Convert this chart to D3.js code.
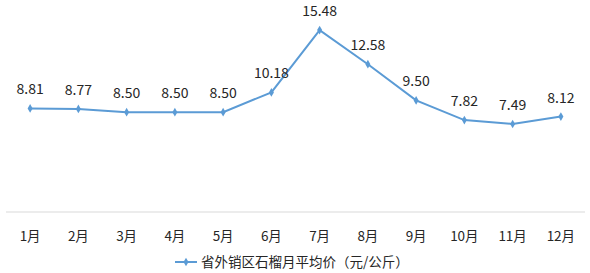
<!DOCTYPE html>
<html>
<head>
<meta charset="utf-8">
<script src="https://cdn.jsdelivr.net/npm/d3@7"></script>
<style>
  body { margin: 0; background: #fff; }
  text { font-family: "Noto Sans CJK SC", "Noto Sans", sans-serif; fill: #262626; }
</style>
</head>
<body>
<div id="app"></div>
<script>
const months = ['1月', '2月', '3月', '4月', '5月', '6月', '7月', '8月', '9月', '10月', '11月', '12月'];
const prices = [8.81, 8.77, 8.50, 8.50, 8.50, 10.18, 15.48, 12.58, 9.50, 7.82, 7.49, 8.12];
const seriesName = '省外销区石榴月平均价（元/公斤）';

const width = 590;
const height = 273;
const color = '#5b9bd5';

const svg = d3.select('#app').append('svg')
  .attr('width', width)
  .attr('height', height);

const x = d3.scaleBand()
  .domain(months)
  .range([6, 585]);

const y = d3.scaleLinear()
  .domain([0, 18])
  .range([212, 0.5]);

const data = months.map((m, i) => ({ month: m, value: prices[i] }));

// baseline
svg.append('line')
  .attr('x1', 6).attr('x2', 585)
  .attr('y1', y(0)).attr('y2', y(0))
  .attr('stroke', '#d9d9d9')
  .attr('stroke-width', 1);

const xAxis = d3.axisBottom(x).tickSize(0).tickPadding(19);
svg.append('g')
  .attr('transform', `translate(0, ${y(0)})`)
  .call(xAxis)
  .call(g => g.select('.domain').remove())
  .selectAll('text')
  .style('font-size', '13.5px')
  .style('font-family', '"Noto Sans CJK SC", sans-serif')
  .attr('fill', '#262626');

const line = d3.line()
  .x(d => x(d.month) + x.bandwidth() / 2)
  .y(d => y(d.value));

svg.append('path')
  .datum(data)
  .attr('fill', 'none')
  .attr('stroke', color)
  .attr('stroke-width', 2)
  .attr('d', line);

const diamond = d3.symbol().type(d3.symbolDiamond).size(22);

svg.selectAll('.pt')
  .data(data)
  .join('path')
  .attr('class', 'pt')
  .attr('transform', d => `translate(${x(d.month) + x.bandwidth() / 2}, ${y(d.value)})`)
  .attr('d', diamond)
  .attr('fill', color);

svg.selectAll('.lbl')
  .data(data)
  .join('text')
  .attr('class', 'lbl')
  .attr('x', d => x(d.month) + x.bandwidth() / 2)
  .attr('y', d => y(d.value) - 14)
  .attr('text-anchor', 'middle')
  .style('font-size', '14px')
  .text(d => d.value.toFixed(2));

// legend
const legend = svg.append('g').attr('transform', 'translate(175, 262)');
legend.append('line')
  .attr('x1', 0).attr('x2', 22)
  .attr('stroke', color).attr('stroke-width', 2);
legend.append('path')
  .attr('transform', 'translate(11, 0)')
  .attr('d', diamond)
  .attr('fill', color);
legend.append('text')
  .attr('x', 26)
  .attr('dy', '0.35em')
  .style('font-size', '13.5px')
  .text(seriesName);
</script>
</body>
</html>
